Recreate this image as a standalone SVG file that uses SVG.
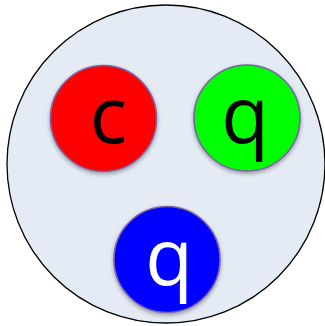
<svg xmlns="http://www.w3.org/2000/svg" width="325" height="326" viewBox="0 0 325 326">
<defs>
<filter id="sh" x="-20%" y="-20%" width="140%" height="140%">
<feGaussianBlur in="SourceAlpha" stdDeviation="2"/>
<feOffset dx="0" dy="2" result="b"/>
<feComponentTransfer><feFuncA type="linear" slope="0.35"/></feComponentTransfer>
<feMerge><feMergeNode/><feMergeNode in="SourceGraphic"/></feMerge>
</filter>
</defs>
<style>
.q{stroke:#7a62a6;stroke-width:1.6;filter:url(#sh)}
.t{font-family:"Open Sans","Liberation Sans",sans-serif;font-size:78px;text-anchor:middle}
</style>
<rect width="325" height="326" fill="#ffffff"/>
<g id="hadron"><circle cx="166" cy="164" r="159" fill="#e4ebf4" stroke="#000" stroke-width="1.3"/></g>
<g id="red"><circle class="q" cx="103.5" cy="118.5" r="53" fill="#ff0000"/><text class="t" x="108.5" y="143" fill="#000">c</text></g>
<g id="green"><circle class="q" cx="247" cy="118" r="53" fill="#00ff00"/><text class="t" x="245" y="143" fill="#000">q</text></g>
<g id="blue"><circle class="q" cx="167" cy="259.5" r="53" fill="#0000ff"/><text class="t" x="169" y="285" fill="#fff">q</text></g>
<g id="connectors"/>
</svg>
